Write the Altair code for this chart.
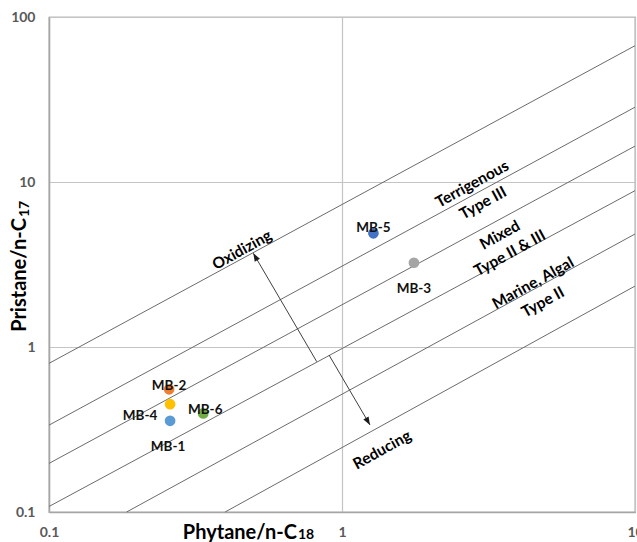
import math
import altair as alt
import pandas as pd

# Sample ratios
samples = ["MB-1", "MB-2", "MB-3", "MB-4", "MB-5", "MB-6"]
ph_c18 = [0.259, 0.257, 1.76, 0.259, 1.28, 0.336]
pr_c17 = [0.357, 0.554, 3.24, 0.450, 4.89, 0.396]
sample_colors = ["#5B9BD5", "#ED7D31", "#A5A5A5", "#FFC000", "#4472C4", "#70AD47"]

# Kerogen-type boundary lines (start and end points)
bound_x0 = [0.1, 0.1, 0.1, 0.1, 0.184, 0.399]
bound_y0 = [0.796, 0.336, 0.197, 0.108, 0.1, 0.1]
bound_x1 = [10, 10, 10, 10, 10, 10]
bound_y1 = [67.0, 28.4, 16.5, 8.86, 4.84, 2.34]

# Redox arrows (tail -> head)
arrow_x0 = [0.820, 0.903]
arrow_y0 = [0.815, 0.894]
arrow_x1 = [0.498, 1.246]
arrow_y1 = [3.70, 0.337]

# Zone annotations
zone_text = ["Oxidizing", "Reducing", "Terrigenous", "Type III", "Mixed",
             "Type II & III", "Marine, Algal", "Type II"]
zone_x = [0.456, 1.37, 2.78, 3.03, 3.46, 3.74, 4.49, 4.85]
zone_y = [3.87, 0.238, 9.72, 7.46, 4.77, 3.71, 2.44, 1.87]

W, H = 586, 495
FONT = "Lato"

xscale = alt.Scale(type="log", domain=[0.1, 10], nice=False)
yscale = alt.Scale(type="log", domain=[0.1, 100], nice=False)

pts = pd.DataFrame({"sample": samples, "x": ph_c18, "y": pr_c17, "c": sample_colors})
bounds = pd.DataFrame({"x0": bound_x0, "y0": bound_y0, "x1": bound_x1, "y1": bound_y1})


def head_angle(x0, y0, x1, y1):
    dx = W / 2 * (math.log10(x1) - math.log10(x0))
    dy = -H / 3 * (math.log10(y1) - math.log10(y0))
    return math.degrees(math.atan2(dx, -dy)) % 360


arrows = pd.DataFrame({"x0": arrow_x0, "y0": arrow_y0, "x1": arrow_x1, "y1": arrow_y1})
arrows["ang"] = [head_angle(a, b, c, d) for a, b, c, d in zip(arrow_x0, arrow_y0, arrow_x1, arrow_y1)]

zones = pd.DataFrame({"t": zone_text, "x": zone_x, "y": zone_y})

x_axis = alt.Axis(values=[0.1, 1, 10], format="~g", title=None, ticks=False,
                  labelPadding=13, labelFlush=False, labelOverlap=False,
                  grid=True, gridColor="#c4c4c4", gridWidth=1.2,
                  domainColor="#a6a6a6", domainWidth=1.5)
y_axis = alt.Axis(values=[0.1, 1, 10, 100], format="~g", title=None, ticks=False,
                  labelPadding=14, labelFlush=False, labelOverlap=False,
                  grid=True, gridColor="#c4c4c4", gridWidth=1.2,
                  domainColor="#a6a6a6", domainWidth=1.5)

base_axes = alt.Chart(pts).mark_point(opacity=0).encode(
    x=alt.X("x:Q", scale=xscale, axis=x_axis),
    y=alt.Y("y:Q", scale=yscale, axis=y_axis),
)

boundary_lines = alt.Chart(bounds).mark_rule(color="#6b6b6b", strokeWidth=1).encode(
    x=alt.X("x0:Q", scale=xscale),
    y=alt.Y("y0:Q", scale=yscale),
    x2="x1:Q",
    y2="y1:Q",
)

arrow_shafts = alt.Chart(arrows).mark_rule(color="#404040", strokeWidth=1).encode(
    x=alt.X("x0:Q", scale=xscale),
    y=alt.Y("y0:Q", scale=yscale),
    x2="x1:Q",
    y2="y1:Q",
)

arrow_heads = alt.Chart(arrows).mark_point(
    shape="M0,0L-0.75,2L0.75,2Z", filled=True, color="#1a1a1a", size=64, opacity=1
).encode(
    x=alt.X("x1:Q", scale=xscale),
    y=alt.Y("y1:Q", scale=yscale),
    angle=alt.Angle("ang:Q", scale=None),
)

points = alt.Chart(pts).mark_circle(size=115, opacity=1).encode(
    x=alt.X("x:Q", scale=xscale),
    y=alt.Y("y:Q", scale=yscale),
    color=alt.Color("c:N", scale=None),
)

# Sample label placement relative to each marker (pixels)
label_offsets = {
    "MB-1": (-2, 26),
    "MB-2": (0, -3),
    "MB-3": (0, 26),
    "MB-4": (-30, 12),
    "MB-5": (0, -5),
    "MB-6": (2, -3),
}

label_layers = []
for name, (ddx, ddy) in label_offsets.items():
    label_layers.append(
        alt.Chart(pts).transform_filter(alt.datum.sample == name).mark_text(
            font=FONT, fontSize=13.5, fontWeight="bold", color="#111111", dx=ddx, dy=ddy
        ).encode(
            x=alt.X("x:Q", scale=xscale),
            y=alt.Y("y:Q", scale=yscale),
            text="sample:N",
        )
    )

zone_labels = alt.Chart(zones).mark_text(
    font=FONT, fontSize=15.5, fontWeight="bold", color="#000000", angle=331,
    align="center", baseline="middle"
).encode(
    x=alt.X("x:Q", scale=xscale),
    y=alt.Y("y:Q", scale=yscale),
    text="t:N",
)

one = pd.DataFrame({"k": [0]})

x_title = alt.Chart(one).mark_text(
    text="Phytane/n-C", font=FONT, fontSize=20, fontWeight="bold", color="#000000",
    align="right", baseline="alphabetic"
).encode(x=alt.value(248), y=alt.value(522))
x_title_sub = alt.Chart(one).mark_text(
    text="18", font=FONT, fontSize=14, fontWeight="bold", color="#000000",
    align="left", baseline="alphabetic"
).encode(x=alt.value(249), y=alt.value(522))

y_title = alt.Chart(one).mark_text(
    text="Pristane/n-C", font=FONT, fontSize=20, fontWeight="bold", color="#000000",
    align="right", baseline="alphabetic", angle=270
).encode(x=alt.value(-23.5), y=alt.value(201))
y_title_sub = alt.Chart(one).mark_text(
    text="17", font=FONT, fontSize=14, fontWeight="bold", color="#000000",
    align="left", baseline="alphabetic", angle=270
).encode(x=alt.value(-20.5), y=alt.value(200))

chart = alt.layer(
    base_axes, boundary_lines, arrow_shafts, arrow_heads, points,
    *label_layers, zone_labels, x_title, x_title_sub, y_title, y_title_sub
).properties(
    width=W, height=H,
    autosize=alt.AutoSizeParams(type="none"),
    padding={"left": 49, "top": 17, "right": 2, "bottom": 30},
    background="#ffffff",
).configure_view(
    stroke="#767676", strokeWidth=1.2
).configure_axis(
    labelFont=FONT, labelFontSize=14, labelFontWeight="bold", labelColor="#595959"
)

chart.save("out.html", embed_options={"renderer": "svg", "actions": False})
